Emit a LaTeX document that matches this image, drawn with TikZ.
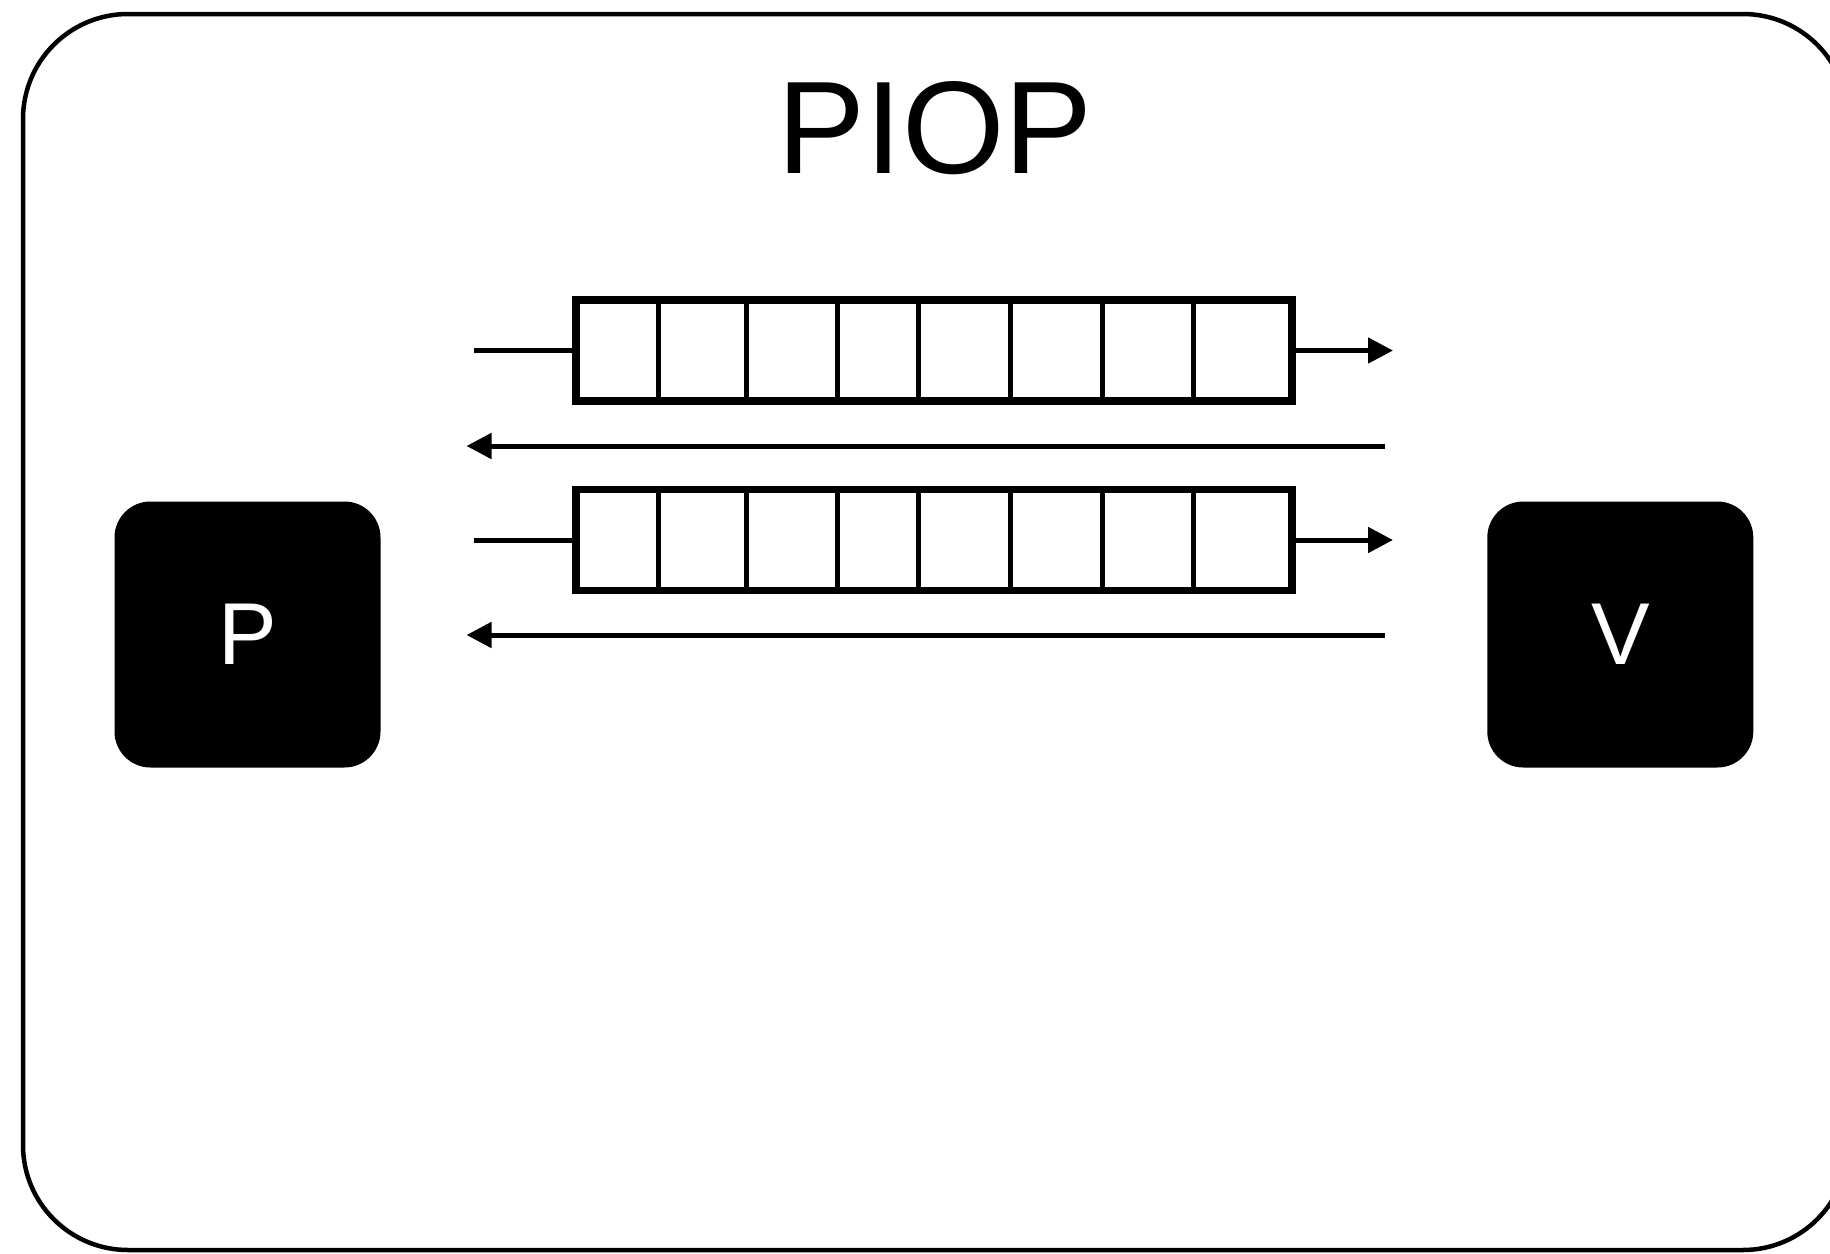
\documentclass[tikz,border=0pt]{standalone}
\usepackage{fontspec}
\setmainfont{Liberation Sans}
\usetikzlibrary{arrows.meta, positioning}

\begin{document}
\begin{tikzpicture}[
    x=0.1mm, y=-0.1mm,
    frame/.style={draw, line width=0.45mm, rounded corners=10.5mm},
    party/.style={rectangle, rounded corners=3.6mm, fill=black, text=white, minimum size=26.6mm, inner sep=0pt, font=\fontsize{25}{30}\selectfont},
    queue/.style={rectangle, draw, line width=0.75mm, minimum width=71.6mm, minimum height=10.1mm, inner sep=0pt, outer sep=0pt},
    cell/.style={line width=0.5mm},
    link/.style={line width=0.5mm},
    arrow/.style={link, -{Triangle[length=2.5mm, width=2.5mm]}}
]
\useasboundingbox (0,0) rectangle (1830,1254);
\clip (0,0) rectangle (1830,1254);

% Outer frame
\draw[frame] (23,14) rectangle (1848,1250);

% Title
\node[font=\fontsize{37.5}{43}\selectfont] (title) at (935,128.5) {PIOP};

% Prover and verifier
\node[party] (prover) at (247.5,634.5) {P};
\node[party] (verifier) at (1620.3,634.5) {V};

% Message queues
\node[queue] (q1) at (934,350.5) {};
\node[queue] (q2) at (934,540) {};
\foreach \q in {q1,q2}
    \foreach \x in {658,746.7,837.5,918.5,1010,1102.5,1193}
        \draw[cell] (\x,0 |- \q.north) -- (\x,0 |- \q.south);

% Queue ends
\coordinate (in1) at (474,350.5);
\coordinate (out1) at (1393,350.5);
\coordinate (in2) at (474,540);
\coordinate (out2) at (1393,540);
\draw[link] (in1) -- (q1.west);
\draw[arrow] (q1.east) -- (out1);
\draw[link] (in2) -- (q2.west);
\draw[arrow] (q2.east) -- (out2);

% Return channels
\coordinate (back1s) at (1385,446);
\coordinate (back1e) at (466.5,446);
\coordinate (back2s) at (1385,635);
\coordinate (back2e) at (466.5,635);
\draw[arrow] (back1s) -- (back1e);
\draw[arrow] (back2s) -- (back2e);

\end{tikzpicture}
\end{document}
